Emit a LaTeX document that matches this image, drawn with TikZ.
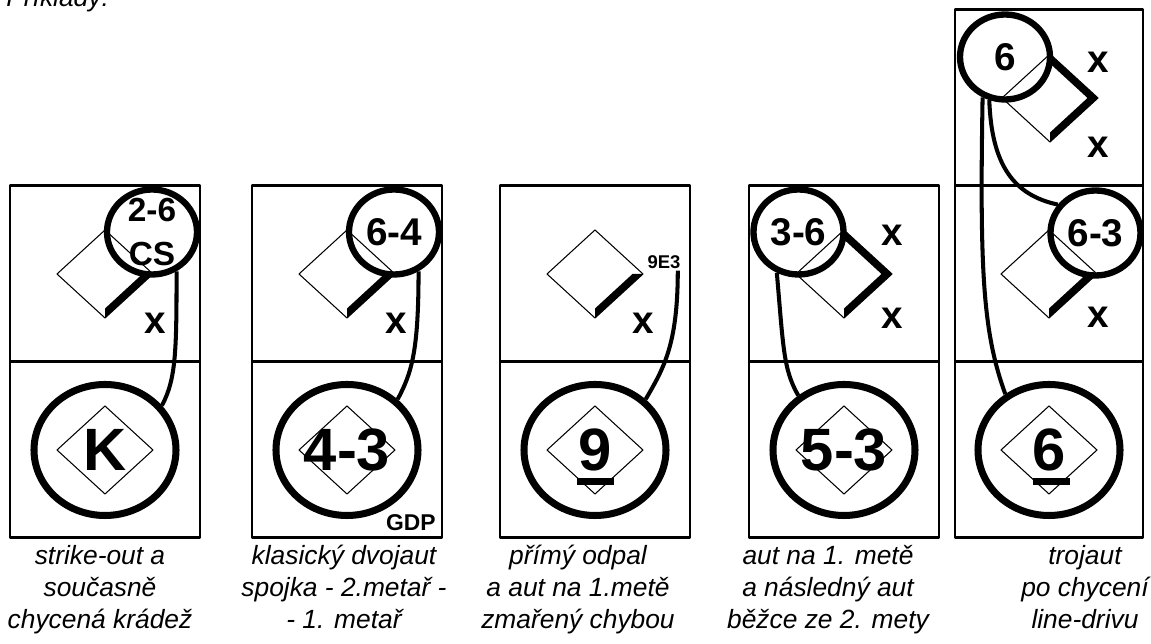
\documentclass[tikz,border=0pt]{standalone}
\usepackage{fontspec}
\setmainfont{Liberation Sans}
\usetikzlibrary{shapes.geometric}

\tikzset{
  boxline/.style={line width=1.7pt},
  diamline/.style={line width=0.6pt},
  diam/.pic={\draw[diamline] (-0.96,0) -- (0,0.88) -- (0.96,0) -- (0,-0.88) -- cycle;},
  runfirst/.pic={\fill (0,-0.88) -- (0.96,0) -- (0.75,0) -- (0,-0.69) -- cycle;},
  runsecond/.pic={\fill (0.96,0) -- (0,0.88) -- (0,0.69) -- (0.75,0) -- cycle;},
  outring/.style={ellipse, draw, line width=3.6pt, minimum width=1.8cm, minimum height=1.7cm,
    inner sep=0pt, font=\bfseries\fontsize{22}{25}\selectfont},
  bigring/.style={ellipse, draw, line width=4pt, minimum width=2.84cm, minimum height=2.62cm,
    inner sep=0pt, font=\bfseries\fontsize{34}{40}\selectfont},
  outmark/.style={inner sep=0pt, font=\bfseries\fontsize{22}{26}\selectfont},
  linkline/.style={line width=2.3pt},
  capt/.style={anchor=north, align=center, inner sep=0pt, font=\itshape\fontsize{15}{18.2}\selectfont}
}

\begin{document}
\begin{tikzpicture}[line join=round]
\useasboundingbox (0,0) rectangle (23.02,12.88);

% Heading (cut by the page edge)
\node[anchor=base west, inner sep=0pt, font=\itshape\fontsize{15}{18}\selectfont] (head) at (0.12,12.74) {Příklady:};

% --- 1: strike-out + caught stealing
\begin{scope}[shift={(0.2,2.12)}]
\draw[boxline] (0,0) rectangle (3.8,7.04);
\draw[boxline] (0,3.52) -- (3.8,3.52);
\pic at (1.9,5.28) {diam};
\pic at (1.9,5.28) {runfirst};
\node[outring] (c1) at (2.84,6.12) {};
\node[inner sep=0pt, align=center, font=\bfseries\fontsize{19}{25}\selectfont] (t1) at (c1.center) {2-6\\CS};
\node[outmark] (x1) at (2.9,4.3) {x};
\pic at (1.9,1.76) {diam};
\node[bigring] (k1) at (1.9,1.76) {K};
\draw[linkline] (c1.-58) .. controls +(-90:1.6) and +(62:0.6) .. (k1.38);
\node[capt] (cap1) at (1.8,-0.14) {strike-out a\\současně\\chycená krádež};
\end{scope}

% --- 2: double play
\begin{scope}[shift={(5.04,2.12)}]
\draw[boxline] (0,0) rectangle (3.8,7.04);
\draw[boxline] (0,3.52) -- (3.8,3.52);
\pic at (1.9,5.28) {diam};
\pic at (1.9,5.28) {runfirst};
\node[outring] (c2) at (2.84,6.12) {6-4};
\node[outmark] (x2) at (2.88,4.3) {x};
\pic at (1.9,1.76) {diam};
\node[bigring] (k2) at (1.9,1.76) {4-3};
\node[anchor=east, inner sep=0pt, font=\bfseries\fontsize{13}{15}\selectfont] (g2) at (3.68,0.3) {GDP};
\draw[linkline] (c2.-58) .. controls +(-90:1.6) and +(62:0.6) .. (k2.45);
\node[capt] (cap2) at (1.84,-0.14) {klasický dvojaut\\spojka - 2.metař -\\- 1. metař};
\end{scope}

% --- 3: fly ball, error at first
\begin{scope}[shift={(10.0,2.12)}]
\draw[boxline] (0,0) rectangle (3.8,7.04);
\draw[boxline] (0,3.52) -- (3.8,3.52);
\pic at (1.9,5.28) {diam};
\pic at (1.9,5.28) {runfirst};
\node[inner sep=0pt, font=\bfseries\fontsize{10.5}{12}\selectfont] (e3) at (3.28,5.52) {9E3};
\node[outmark] (x3) at (2.86,4.3) {x};
\pic at (1.9,1.76) {diam};
\node[bigring] (k3) at (1.9,1.76) {9};
\fill (1.53,1.06) rectangle (2.27,1.2);
\draw[linkline] ([xshift=-1.7pt,yshift=-1pt]e3.south east) .. controls +(-90:1.5) and +(60:0.7) .. (k3.45);
\node[capt] (cap3) at (1.56,-0.14) {přímý odpal\\a aut na 1.metě\\zmařený chybou};
\end{scope}

% --- 4: out at first, runner from second
\begin{scope}[shift={(14.98,2.12)}]
\draw[boxline] (0,0) rectangle (3.8,7.04);
\draw[boxline] (0,3.52) -- (3.8,3.52);
\pic at (1.9,5.28) {diam};
\pic at (1.9,5.28) {runfirst};
\pic at (1.9,5.28) {runsecond};
\node[outring] (c4) at (0.99,6.12) {3-6};
\node[outmark] (x4a) at (2.86,6.06) {x};
\node[outmark] (x4b) at (2.86,4.4) {x};
\pic at (1.9,1.76) {diam};
\node[bigring] (k4) at (1.9,1.76) {5-3};
\draw[linkline] (c4.-118) .. controls +(-85:1.5) and +(120:0.6) .. (k4.130);
\node[capt] (cap4) at (1.58,-0.14) {aut na 1. metě\\a následný aut\\běžce ze 2. mety};
\end{scope}

% --- 5: triple play
\begin{scope}[shift={(19.1,2.12)}]
\draw[boxline] (0,0) rectangle (3.76,10.56);
\draw[boxline] (0,3.52) -- (3.76,3.52);
\draw[boxline] (0,7.04) -- (3.76,7.04);
\pic at (1.9,8.8) {diam};
\pic at (1.9,8.8) {runfirst};
\pic at (1.9,8.8) {runsecond};
\node[outring] (c5a) at (1.0,9.62) {6};
\node[outmark] (x5a) at (2.86,9.52) {x};
\node[outmark] (x5b) at (2.86,7.82) {x};
\pic at (1.88,5.28) {diam};
\pic at (1.88,5.28) {runfirst};
\node[outring] (c5b) at (2.81,6.1) {6-3};
\node[outmark] (x5c) at (2.86,4.42) {x};
\pic at (1.88,1.76) {diam};
\node[bigring] (k5) at (1.88,1.76) {6};
\fill (1.55,1.06) rectangle (2.29,1.2);
\draw[linkline] (c5a.-119) .. controls +(-91:3.5) and +(110:1.3) .. (k5.128);
\draw[linkline] (c5a.-110) .. controls +(-88:1.3) and +(168:0.9) .. (c5b.143);
\node[capt] (cap5) at (2.6,-0.14) {trojaut\\po chycení\\line-drivu};
\end{scope}

\end{tikzpicture}
\end{document}
